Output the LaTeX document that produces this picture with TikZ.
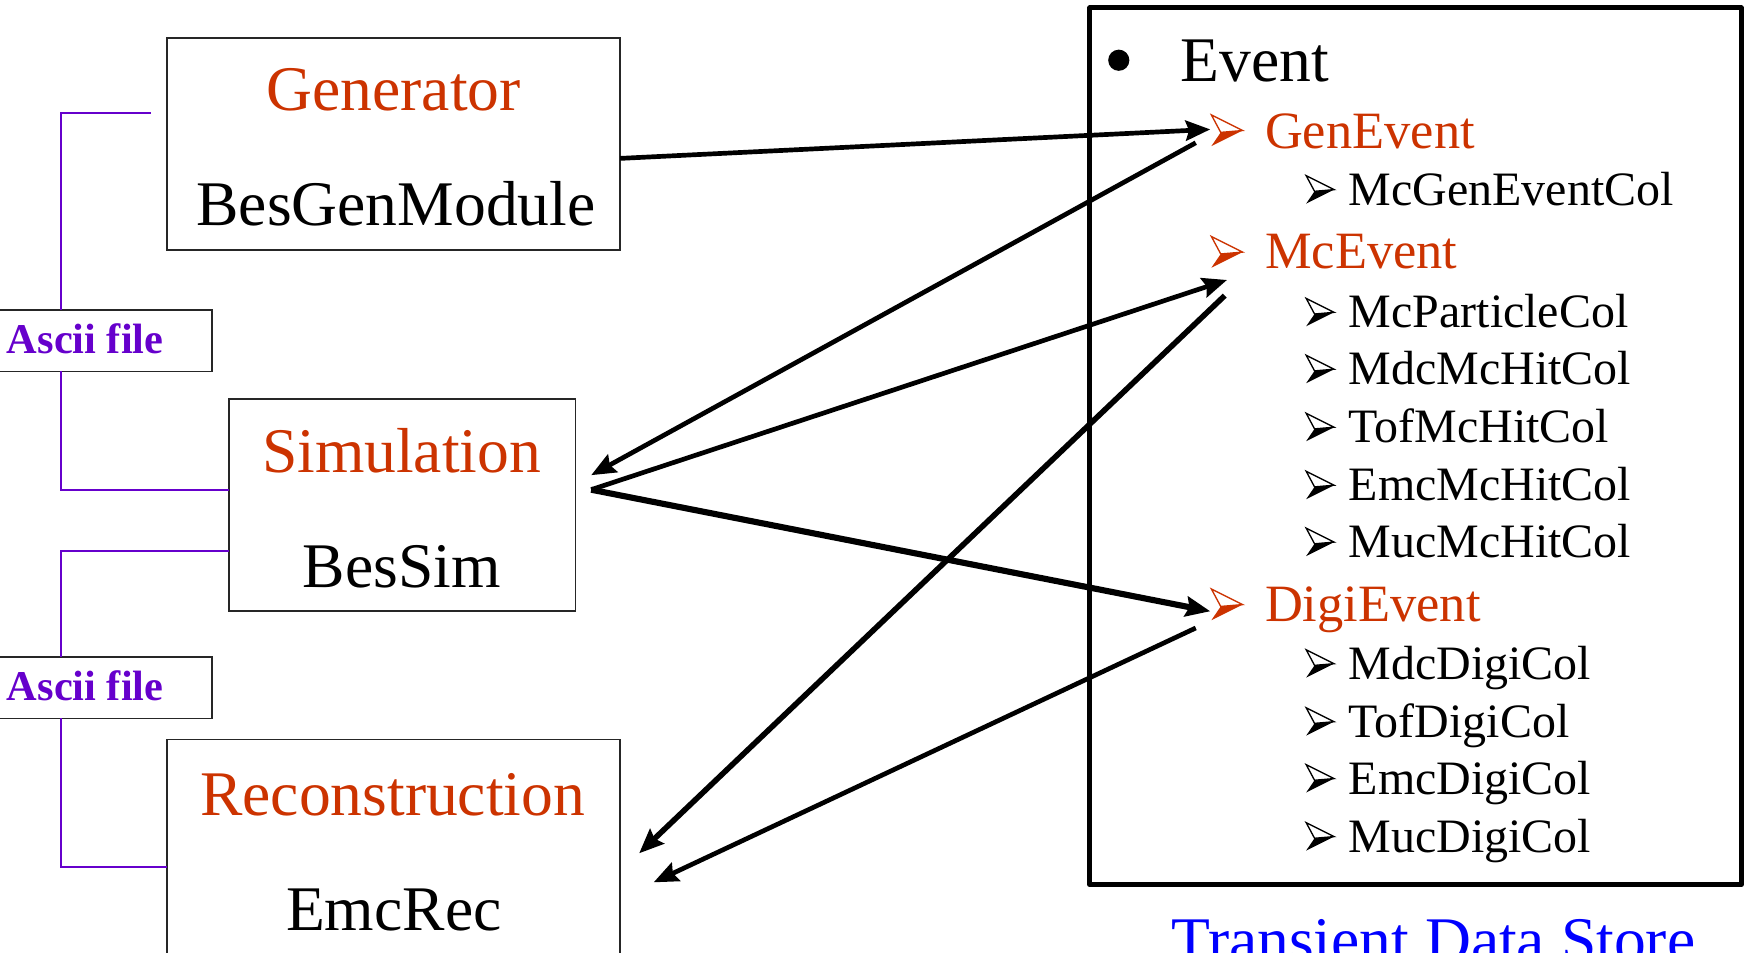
\documentclass[tikz,border=0pt]{standalone}
\usepackage{fontspec}
\setmainfont{Liberation Serif}
\usetikzlibrary{arrows.meta,calc}
\definecolor{modred}{HTML}{CC3300}
\definecolor{filepurple}{HTML}{6600CC}
\definecolor{storeblue}{HTML}{0000FF}
\tikzset{
  modbox/.style={draw=black!85, line width=1.5pt, inner sep=0pt, outer sep=0pt},
  filebox/.style={draw=black!85, line width=1.5pt, inner sep=0pt, outer sep=0pt,
    minimum width=195pt, minimum height=55pt},
  filetext/.style={font=\fontsize{38}{40}\selectfont\bfseries, text=filepurple,
    anchor=base west, inner sep=0pt},
  fileline/.style={draw=filepurple, line width=1.9pt},
  titletext/.style={font=\fontsize{57}{60}\selectfont, text=modred, anchor=base, inner sep=0pt},
  codetext/.style={font=\fontsize{57}{60}\selectfont, anchor=base, inner sep=0pt},
  evtext/.style={font=\fontsize{47}{50}\selectfont, text=modred, anchor=base west, inner sep=0pt},
  coltext/.style={font=\fontsize{43}{45}\selectfont, anchor=base west, inner sep=0pt},
  flow/.style={line width=4.2pt, -{Stealth[length=22pt,width=18pt,inset=3pt]}},
  storebox/.style={draw, line width=4.5pt, line join=round, inner sep=0pt, outer sep=0pt},
  pics/wingbullet/.style={code={
    \fill[#1] (0.3,0.06) -- (1,0) -- (0,0.5) -- cycle;
    \filldraw[draw=#1, fill=white, line width=1.2pt, line join=miter]
      (0,-0.5) -- (1,0) -- (0.3,0.06) -- cycle;
  }},
}
\begin{document}
\begin{tikzpicture}[x=1pt, y=-1pt]
  \useasboundingbox (0,0) rectangle (1568,854);
  \clip (0,0) rectangle (1568,854);
  \fill[white] (0,0) rectangle (1568,854);

  % ---- processing modules ----
  \node[modbox, minimum width=406pt, minimum height=190pt] (gen) at (353,129) {};
  \node[titletext] (genTitle) at (353,99) {Generator};
  \node[codetext] (genCode) at (355,202) {BesGenModule};

  \node[modbox, minimum width=311pt, minimum height=190pt] (sim) at (360.5,453) {};
  \node[titletext] (simTitle) at (360,424) {Simulation};
  \node[codetext] (simCode) at (360,527) {BesSim};

  \node[modbox, minimum width=406pt, minimum height=197pt] (rec) at (353,761.5) {};
  \node[titletext] (recTitle) at (352,731) {Reconstruction};
  \node[codetext] (recCode) at (353,834) {EmcRec};

  % ---- intermediate files ----
  \node[filebox] (ascii1) at (92.5,305.5) {};
  \node[filetext] (ascii1T) at (6,317) {Ascii file};
  \node[filebox] (ascii2) at (92.5,616.5) {};
  \node[filetext] (ascii2T) at (6,628) {Ascii file};

  \coordinate (spine) at (55,0);
  \draw[fileline] ($(gen.west)+(-15,-28)$) -| (spine |- ascii1.north);
  \draw[fileline] (spine |- ascii1.south) |- ($(sim.west)+(0,-14)$);
  \draw[fileline] ($(sim.west)+(0,41)$) -| (spine |- ascii2.north);
  \draw[fileline] (spine |- ascii2.south) |- ($(rec.west)+(0,15.5)$);

  % ---- transient data store ----
  \node[storebox, minimum width=584pt, minimum height=786pt] (store) at (1269,400) {};
  \fill (1003,54) circle (9.5);
  \node[codetext, anchor=base west] (event) at (1058,73) {Event};

  \pic[scale=28] at (1086,117) {wingbullet=modred};
  \node[evtext] (genEv) at (1134,133) {GenEvent};
  \pic[scale=25] at (1171,170) {wingbullet=black};
  \node[coltext] (c1) at (1209,184) {McGenEventCol};

  \pic[scale=28] at (1086,226) {wingbullet=modred};
  \node[evtext] (mcEv) at (1134,241) {McEvent};
  \pic[scale=25] at (1171,280) {wingbullet=black};
  \node[coltext] (c2) at (1209,294) {McParticleCol};
  \pic[scale=25] at (1171,331) {wingbullet=black};
  \node[coltext] (c3) at (1209,345) {MdcMcHitCol};
  \pic[scale=25] at (1171,383) {wingbullet=black};
  \node[coltext] (c4) at (1209,397) {TofMcHitCol};
  \pic[scale=25] at (1171,435) {wingbullet=black};
  \node[coltext] (c5) at (1209,449) {EmcMcHitCol};
  \pic[scale=25] at (1171,486) {wingbullet=black};
  \node[coltext] (c6) at (1209,500) {MucMcHitCol};

  \pic[scale=28] at (1086,542) {wingbullet=modred};
  \node[evtext] (digiEv) at (1134,557) {DigiEvent};
  \pic[scale=25] at (1171,595) {wingbullet=black};
  \node[coltext] (c7) at (1209,609) {MdcDigiCol};
  \pic[scale=25] at (1171,647) {wingbullet=black};
  \node[coltext] (c8) at (1209,661) {TofDigiCol};
  \pic[scale=25] at (1171,698) {wingbullet=black};
  \node[coltext] (c9) at (1209,712) {EmcDigiCol};
  \pic[scale=25] at (1171,750) {wingbullet=black};
  \node[coltext] (c10) at (1209,764) {MucDigiCol};

  \node[codetext, text=storeblue] (storeName) at (1285,862) {Transient Data Store};

  % ---- data flow ----
  \coordinate (genOut) at ($(gen.east)+(0,13)$);
  \coordinate (genIn) at (1085,116);
  \coordinate (genFrom) at (1072,128);
  \coordinate (simIn) at (530,426);
  \coordinate (simPort) at (530,439);
  \coordinate (mcIn) at (1100,251);
  \coordinate (mcFrom) at (1098,265);
  \coordinate (digiIn) at (1085,548);
  \coordinate (digiFrom) at (1072,563);
  \coordinate (recInA) at (573,765);
  \coordinate (recInB) at (586,791);

  \draw[flow] (genOut) -- (genIn);
  \draw[flow] (genFrom) -- (simIn);
  \draw[flow] (simPort) -- (mcIn);
  \draw[flow, line width=5.5pt] (simPort) -- (digiIn);
  \draw[flow, line width=5pt] (mcFrom) -- (recInA);
  \draw[flow] (digiFrom) -- (recInB);
\end{tikzpicture}
\end{document}
